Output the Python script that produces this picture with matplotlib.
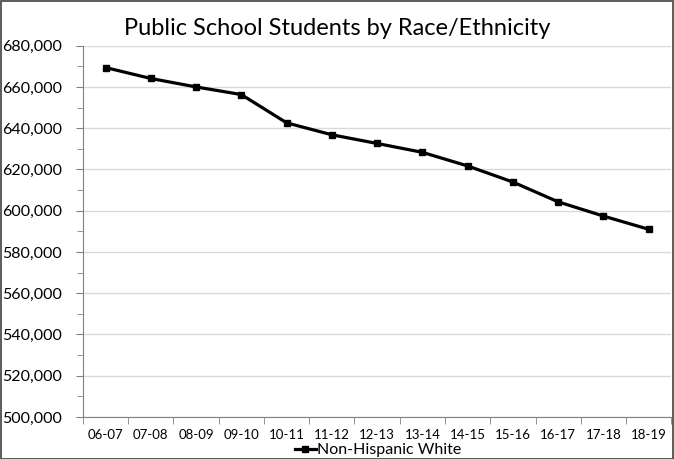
import matplotlib.pyplot as plt
from matplotlib.ticker import FuncFormatter, MultipleLocator, FixedLocator

# ---------------- DATA ----------------
years = ["06-07", "07-08", "08-09", "09-10", "10-11", "11-12", "12-13",
         "13-14", "14-15", "15-16", "16-17", "17-18", "18-19"]
white = [669400, 664100, 660000, 656300, 642600, 636800, 632600,
         628300, 621700, 613900, 604300, 597400, 591000]

plt.rcParams['font.family'] = ['Lato', 'DejaVu Sans']

fig = plt.figure(figsize=(6.74, 4.59), dpi=100)
ax = fig.add_axes([0.123, 0.0915, 0.873, 0.809])

x = list(range(len(years)))
ax.plot(x, white, color='black', linewidth=2.3, marker='s', markersize=5,
        label='Non-Hispanic White')

# ejes
ax.set_xlim(-0.5, len(years) - 0.5)
ax.set_ylim(500000, 680000)
ax.yaxis.set_major_locator(MultipleLocator(20000))
ax.yaxis.set_minor_locator(MultipleLocator(10000))
ax.yaxis.set_major_formatter(FuncFormatter(lambda v, p: f"{int(v):,}"))
ax.set_xticks(x)
ax.set_xticklabels(years, fontsize=9.5)
ax.xaxis.set_minor_locator(FixedLocator([i - 0.5 for i in range(len(years) + 1)]))
ax.tick_params(axis='x', which='major', length=0, pad=8.5)
ax.tick_params(axis='x', which='minor', length=5, color='#808080', direction='out')
ax.tick_params(axis='y', which='major', length=5, color='#808080', labelsize=11.5, pad=10)
ax.tick_params(axis='y', which='minor', length=4, color='#808080')
ax.grid(axis='y', which='major', color='#d9d9d9', linewidth=1)
ax.set_axisbelow(True)
for s in ['top', 'right']:
    ax.spines[s].set_visible(False)
ax.spines['left'].set_color('#808080')
ax.spines['bottom'].set_color('#808080')

fig.text(0.5, 0.937, "Public School Students by Race/Ethnicity", ha='center', va='center',
         fontsize=17)
fig.legend(loc='center', bbox_to_anchor=(0.561, 0.019), frameon=False,
           fontsize=11.5, handlelength=1.3, handletextpad=0.1, markerscale=0.8,
           borderpad=0)

# borde de la figura
fig.patches.append(plt.Rectangle((0.001, 0.001), 0.997, 0.997, transform=fig.transFigure,
                                 fill=False, edgecolor='#404040', linewidth=1.2))

fig.savefig('out.png', dpi=100)
